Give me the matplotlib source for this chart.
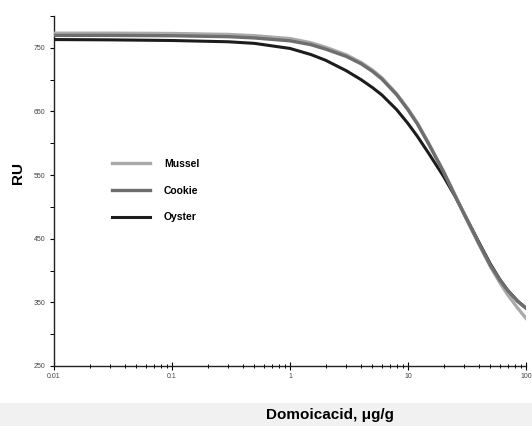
import matplotlib
matplotlib.use("Agg")
import matplotlib.pyplot as plt
from matplotlib.patches import Rectangle
from matplotlib.ticker import LogLocator, FixedLocator, NullFormatter

plt.rcParams["font.family"] = ["Liberation Sans", "DejaVu Sans"]

# Domoic acid dose (ug/g) and RU response
dose = [0.01, 0.03, 0.1, 0.3, 0.5, 1, 1.5, 2, 3, 4, 5, 6, 8, 10, 12, 15,
        20, 25, 30, 40, 50, 60, 70, 85, 100]
mussel = [773, 773, 772.5, 771, 769, 764.5, 758, 751, 739, 727, 715, 703, 678,
          654, 632, 600, 556, 519, 488, 441, 406, 381, 362, 341, 325]
cookie = [769.5, 769.5, 769, 767.5, 765.5, 761, 755, 748, 736.5, 725, 713, 701,
          676.5, 652.5, 630.5, 598.5, 555, 518, 488, 442, 408, 385, 368.5,
          351.5, 341]
oyster = [763, 762.5, 761.5, 759.5, 757, 749, 739.5, 730.5, 714, 700, 687.5,
          676, 653, 631, 611, 584, 548, 517, 489, 444, 410, 386, 369, 352, 341]

x_ticks = [0.01, 0.1, 1, 10, 100]
x_labels = ["0.01", "0.1", "1", "10", "100"]
y_ticks = [250, 350, 450, 550, 650, 750]

fig = plt.figure(figsize=(5.32, 4.26), dpi=100)
# light grey strip behind the x label
fig.patches.append(Rectangle((0, 0), 1, 23 / 426, transform=fig.transFigure,
                             facecolor="#f1f1f1", edgecolor="none", zorder=0))

ax = fig.add_axes([54 / 532, 60 / 426, 472 / 532, 350 / 426])
ax.set_facecolor("none")

ax.plot(dose, oyster, color="#1c1c1c", linewidth=2.2, label="Oyster", zorder=3,
        solid_joinstyle="round")
ax.plot(dose, mussel, color="#aaaaaa", linewidth=2.4, label="Mussel", zorder=4,
        solid_joinstyle="round")
ax.plot(dose, cookie, color="#6e6e6e", linewidth=2.4, label="Cookie", zorder=5,
        solid_joinstyle="round")

ax.set_xscale("log")
ax.set_xlim(0.01, 100)
ax.set_ylim(250, 800)

ax.set_xticks(x_ticks)
ax.set_xticklabels(x_labels)
ax.xaxis.set_minor_locator(LogLocator(base=10, subs=range(2, 10)))
ax.xaxis.set_minor_formatter(NullFormatter())
ax.set_yticks(y_ticks)
ax.yaxis.set_minor_locator(FixedLocator([300, 400, 500, 600, 700, 800]))

ax.tick_params(axis="x", which="major", direction="inout", length=6, width=0.8,
               labelsize=5, labelcolor="#444444", pad=2)
ax.tick_params(axis="x", which="minor", direction="inout", length=3, width=0.7)
ax.tick_params(axis="y", which="major", direction="out", length=3, width=0.8,
               labelsize=5, labelcolor="#444444", pad=3)
ax.tick_params(axis="y", which="minor", direction="out", length=3, width=0.7)

for side in ["top", "right"]:
    ax.spines[side].set_visible(False)
for side in ["left", "bottom"]:
    ax.spines[side].set_linewidth(1.0)
    ax.spines[side].set_color("#222222")

handles, labels = ax.get_legend_handles_labels()
order = [1, 2, 0]
ax.legend([handles[i] for i in order], [labels[i] for i in order],
          loc="upper left", bbox_to_anchor=(112 / 532, 1 - 159 / 426),
          bbox_transform=fig.transFigure, frameon=False, borderpad=0,
          borderaxespad=0, handlelength=3.6, handletextpad=1.4,
          labelspacing=1.6, prop={"weight": "bold", "size": 7.5})

fig.text(18 / 532, 1 - 173 / 426, "RU", rotation=90, ha="center", va="center",
         fontsize=11, fontweight="bold")
fig.text(330 / 532, 1 - 415 / 426, "Domoicacid, \u03bcg/g", ha="center",
         va="center", fontsize=11, fontweight="bold")

fig.savefig("out.png", dpi=100)
